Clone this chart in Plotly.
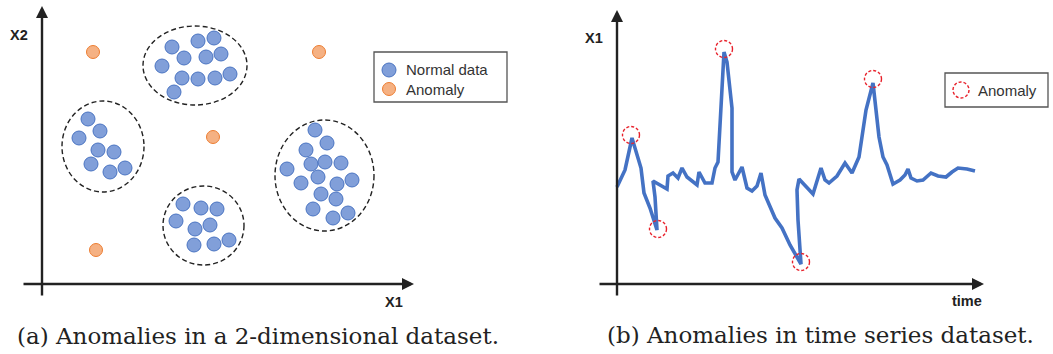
import plotly.graph_objects as go

W, H = 1053, 354

# ---------------- (a) 2-D dataset ----------------
normal_x = [130, 156, 172, 142, 164, 179, 120, 140, 156, 173, 188, 132,
            46, 58, 37, 56, 72, 49, 68, 83,
            141, 159, 175, 134, 168, 153, 152, 172, 187,
            273, 285, 264, 269, 283, 299, 245, 259, 276, 295, 310, 279, 294, 271, 291, 306]
normal_y = [237, 243, 246, 226, 227, 230, 218, 206, 205, 206, 210, 192,
            165, 153, 146, 134, 132, 120, 112, 116,
            80, 76, 75, 63, 59, 55, 39, 40, 44,
            154, 141, 134, 120, 122, 121, 115, 101, 107, 100, 104, 90, 85, 75, 66, 71]
anomaly_x = [51, 171, 277, 54]
anomaly_y = [232, 147, 232, 34]

# cluster outlines: centre and half-axes
cluster_cx = [153, 61, 161.5, 282.5]
cluster_cy = [218.5, 137.5, 58.5, 108.5]
cluster_rx = [52, 41, 40.5, 49.5]
cluster_ry = [39.5, 45.5, 39.5, 55.5]

# ---------------- (b) time series ----------------
ts_t = [0, 8, 15, 24, 27, 33, 40, 38, 36, 43, 50, 51, 56, 61, 65, 70, 80, 82, 88, 95,
        98, 101, 107, 110, 115, 115, 118, 125, 130, 135, 140, 144, 148, 158, 165, 173,
        180, 184, 181, 180, 182, 190, 196, 204, 208, 212, 220, 228, 235, 242, 249, 256,
        262, 266, 270, 276, 283, 288, 291, 294, 300, 306, 314, 321, 329, 335, 341, 350, 358]
ts_v = [97, 114, 146, 116, 91, 76, 54, 87, 103, 99, 95, 108, 111, 106, 116, 107, 99, 112, 101, 101,
        116, 122, 232, 222, 176, 112, 104, 117, 96, 93, 98, 111, 89, 66, 56, 39,
        27, 20, 64, 94, 105, 96, 90, 116, 104, 101, 108, 121, 111, 127, 174, 201,
        147, 127, 119, 100, 104, 109, 115, 106, 103, 104, 111, 108, 107, 112, 116, 115, 113]
ts_anom_t = [14, 41, 107, 184, 256]
ts_anom_v = [149, 55, 235, 22, 205]

BLUE_FILL, BLUE_EDGE = "#819fd9", "#4a74c2"
ORANGE_FILL, ORANGE_EDGE = "#f5b183", "#ed7d31"
LINE_BLUE = "#4472c4"
RED = "#e8212b"
AXIS = "#222222"


def paper_x(p):
    return p / W


def paper_y(p):
    return 1 - p / H


fig = go.Figure()

fig.add_trace(go.Scatter(
    x=normal_x, y=normal_y, mode="markers", name="Normal data",
    marker=dict(size=14, color=BLUE_FILL, line=dict(color=BLUE_EDGE, width=1)),
    xaxis="x", yaxis="y", showlegend=False))
fig.add_trace(go.Scatter(
    x=anomaly_x, y=anomaly_y, mode="markers", name="Anomaly",
    marker=dict(size=13, color=ORANGE_FILL, line=dict(color=ORANGE_EDGE, width=1)),
    xaxis="x", yaxis="y", showlegend=False))

fig.add_trace(go.Scatter(
    x=ts_t, y=ts_v, mode="lines", line=dict(color=LINE_BLUE, width=3.6),
    xaxis="x2", yaxis="y2", showlegend=False))

shapes = []
for cx, cy, rx, ry in zip(cluster_cx, cluster_cy, cluster_rx, cluster_ry):
    shapes.append(dict(type="circle", xref="x", yref="y",
                       x0=cx - rx, x1=cx + rx, y0=cy - ry, y1=cy + ry,
                       line=dict(color=AXIS, width=1.4, dash="5px,3px")))

for t, v in zip(ts_anom_t, ts_anom_v):
    shapes.append(dict(type="circle", xref="x2", yref="y2",
                       xsizemode="pixel", ysizemode="pixel", xanchor=t, yanchor=v,
                       x0=-8.5, x1=8.5, y0=-8.5, y1=8.5,
                       line=dict(color=RED, width=1.4, dash="3px,2px")))

# legend boxes
shapes.append(dict(type="rect", xref="paper", yref="paper",
                   x0=paper_x(374), x1=paper_x(507), y0=paper_y(102), y1=paper_y(52),
                   line=dict(color="#555555", width=1.3)))
shapes.append(dict(type="rect", xref="paper", yref="paper",
                   x0=paper_x(945), x1=paper_x(1048), y0=paper_y(107), y1=paper_y(73),
                   line=dict(color="#555555", width=1.3)))
for cy, fill, edge, r in [(70, BLUE_FILL, BLUE_EDGE, 7), (89, ORANGE_FILL, ORANGE_EDGE, 6.5)]:
    shapes.append(dict(type="circle", xref="paper", yref="paper",
                       xsizemode="pixel", ysizemode="pixel",
                       xanchor=paper_x(389), yanchor=paper_y(cy),
                       x0=-r, x1=r, y0=-r, y1=r,
                       fillcolor=fill, line=dict(color=edge, width=1)))
shapes.append(dict(type="circle", xref="paper", yref="paper",
                   xsizemode="pixel", ysizemode="pixel",
                   xanchor=paper_x(961), yanchor=paper_y(90),
                   x0=-8, x1=8, y0=-8, y1=8,
                   line=dict(color=RED, width=1.4, dash="3px,2px")))

annotations = []


def arrow(xref, yref, tip, tail):
    annotations.append(dict(
        xref=xref, yref=yref, axref=xref, ayref=yref,
        x=tip[0], y=tip[1], ax=tail[0], ay=tail[1], text="",
        showarrow=True, arrowhead=2, arrowsize=1, arrowwidth=2.4,
        arrowcolor=AXIS, standoff=0, startstandoff=0))


# axes of panel (a)
arrow("x", "y", (372, 0), (-20, 0))
arrow("x", "y", (0, 278), (0, -13))
# axes of panel (b)
arrow("x2", "y2", (367, 0), (-19, 0))
arrow("x2", "y2", (0, 274), (0, -13))

label_font = dict(family="Liberation Sans, Arial, sans-serif", size=14.5, color="#222222")


def text(px, py, s, font, xanchor="center", yanchor="middle"):
    annotations.append(dict(xref="paper", yref="paper", x=paper_x(px), y=paper_y(py),
                            text=s, showarrow=False, font=font,
                            xanchor=xanchor, yanchor=yanchor))


text(19, 35, "<b>X2</b>", label_font)
text(394, 302, "<b>X1</b>", label_font)
text(594, 38, "<b>X1</b>", label_font)
text(967, 301, "<b>time</b>", label_font)

legend_font = dict(family="Liberation Sans, Arial, sans-serif", size=15, color="#333333")
text(404, 69, "Normal data", legend_font, xanchor="left")
text(404, 89, "Anomaly", legend_font, xanchor="left")
text(976, 90, "Anomaly", legend_font, xanchor="left")

caption_font = dict(family="DejaVu Serif, serif", size=23, color="#222222")
text(258, 336, "(a) Anomalies in a 2-dimensional dataset.", caption_font)
text(820, 335, "(b) Anomalies in time series dataset.", caption_font)

hidden = dict(visible=False, showgrid=False, zeroline=False, fixedrange=True)

fig.update_layout(
    width=W, height=H,
    margin=dict(l=0, r=0, t=0, b=0),
    paper_bgcolor="white", plot_bgcolor="rgba(0,0,0,0)",
    xaxis=dict(hidden, domain=[0, 1], range=[-42, W - 42]),
    yaxis=dict(hidden, domain=[0, 1], range=[284 - H, 284]),
    xaxis2=dict(hidden, domain=[0, 1], range=[-617, W - 617], overlaying="x", anchor="y2"),
    yaxis2=dict(hidden, domain=[0, 1], range=[284 - H, 284], overlaying="y", anchor="x2"),
    shapes=shapes,
    annotations=annotations,
)

fig.write_html("out.html")
